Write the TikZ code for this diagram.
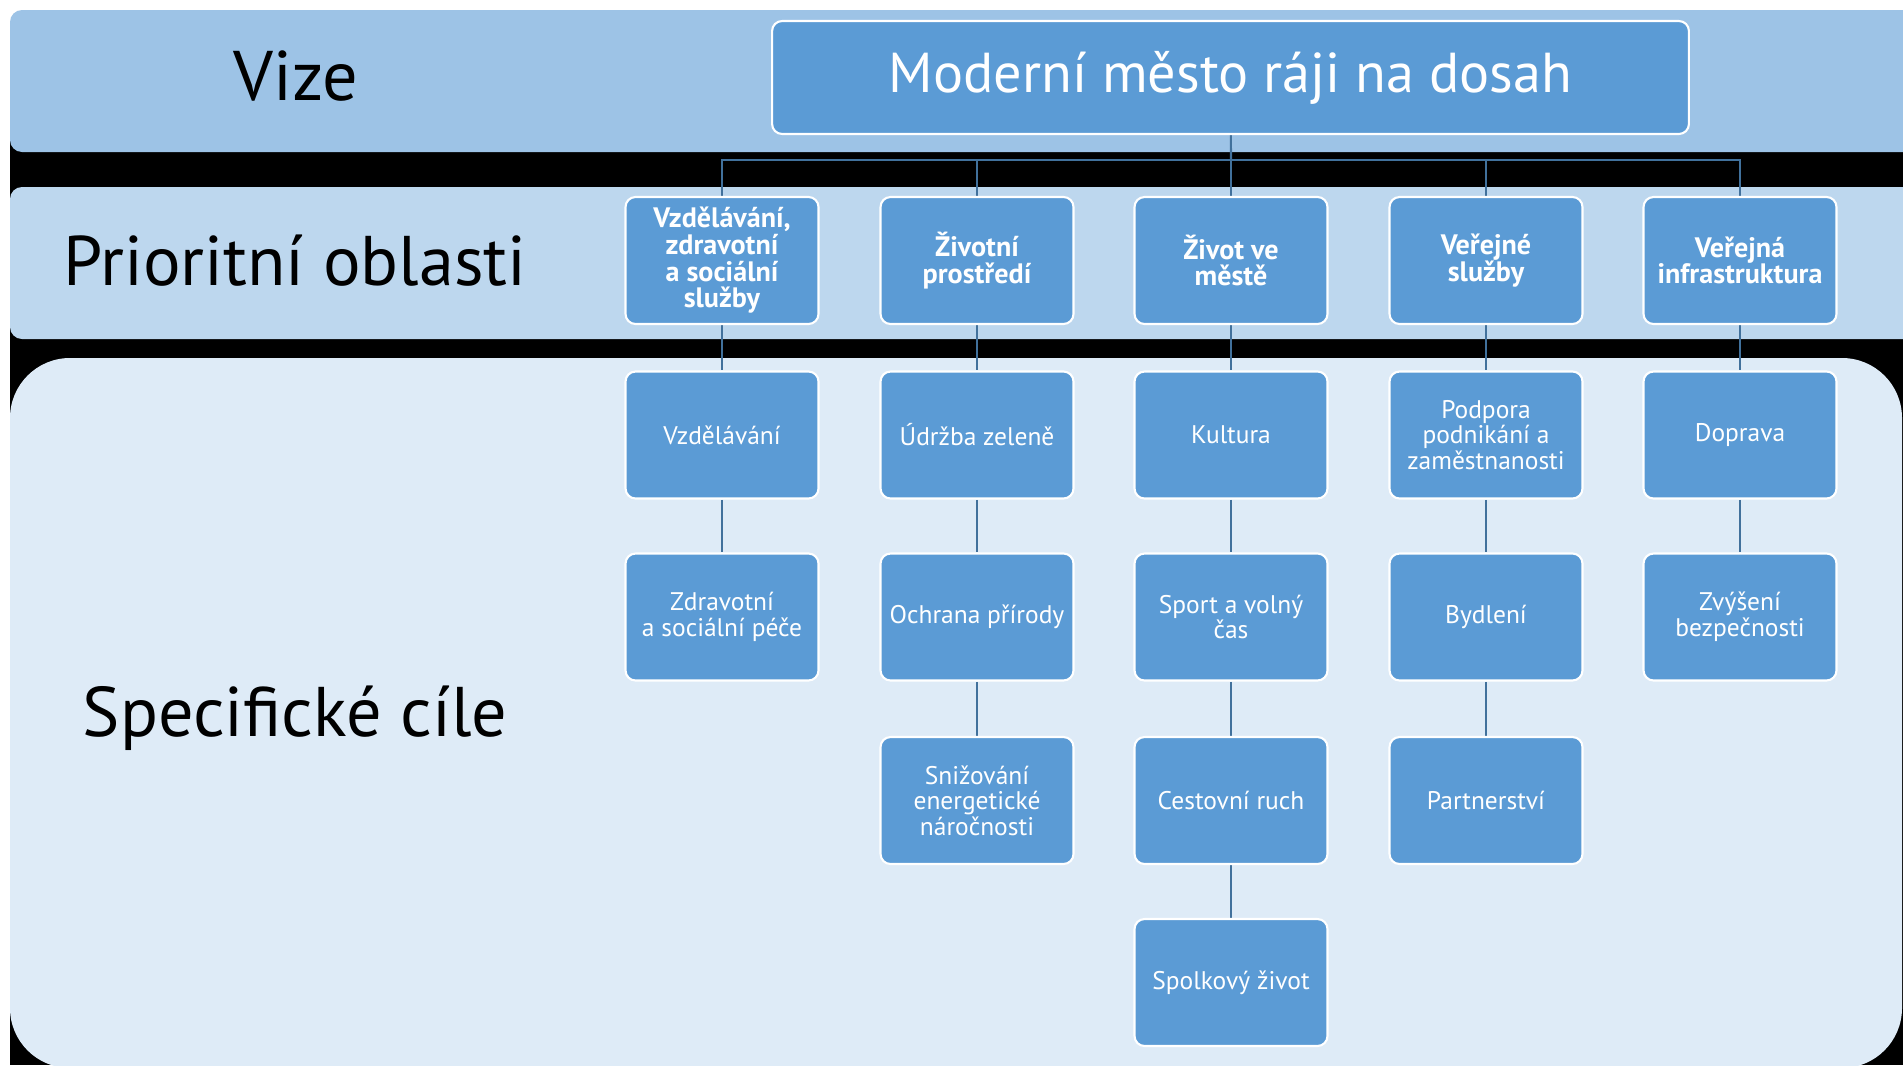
\documentclass[tikz,border=0pt]{standalone}
\usepackage{fontspec}
\setmainfont{PT Sans}
\usetikzlibrary{positioning}
\pgfdeclarelayer{backdrop}
\pgfdeclarelayer{background}
\pgfsetlayers{backdrop,background,main}
\definecolor{bandA}{HTML}{9DC3E6}
\definecolor{bandB}{HTML}{BDD7EE}
\definecolor{bandC}{HTML}{DEEBF7}
\definecolor{boxfill}{HTML}{5B9BD5}
\definecolor{linkblue}{HTML}{41719C}

\begin{document}
\begin{tikzpicture}[x=0.02cm,y=-0.02cm,
					goalbox/.style={rectangle, rounded corners=0.2cm, draw=white, line width=1.2pt, fill=boxfill, text=white, minimum width=3.86cm, minimum height=2.54cm, align=center, inner sep=2pt},
					areabox/.style={goalbox, font=\bfseries\fontsize{16}{15.2}\selectfont},
					aimbox/.style={goalbox, font=\fontsize{14.5}{14.6}\selectfont},
					rowlabel/.style={text=black, font=\fontsize{40}{42}\selectfont},
					link/.style={draw=linkblue, line width=1.2pt},
					]
					\useasboundingbox (0,0) rectangle (1903,1065);
					
					\begin{pgfonlayer}{backdrop}
					%Bands
					\fill[black] (10,100) rectangle (1903,1065);
					\fill[bandA, rounded corners=0.24cm] (10,10) rectangle (1940,152);
					\fill[bandB, rounded corners=0.24cm] (10,187) rectangle (1940,339);
					\fill[bandC, rounded corners=1.2cm] (10,358) rectangle (1902,1068);
					\end{pgfonlayer}
					
					%Labels
					\node[rowlabel]      (vizelbl)   at (296,76)      {Vize};
					\node[rowlabel]      (prilbl)    at (295,261)     {Prioritní oblasti};
					\node[rowlabel]      (spclbl)    at (295,718)     {Specifické cíle};
					
					%Vision
					\node[goalbox, minimum width=18.34cm, minimum height=2.26cm, font=\fontsize{32}{34}\selectfont] (vision) at (1230.5,77.5) {Moderní město ráji na dosah};
					\coordinate (hub) at (1231,160);
					
					%Priority areas
					\node[areabox]      (pa1)      at (722,260.5)      {Vzdělávání,\\zdravotní\\a sociální\\služby};
					\node[areabox]      (pa2)      at (977,260.5)      {Životní\\prostředí};
					\node[areabox]      (pa3)      at (1231,260.5)     {Život ve\\městě};
					\node[areabox]      (pa4)      at (1486,260.5)     {Veřejné\\služby};
					\node[areabox]      (pa5)      at (1740,260.5)     {Veřejná\\infrastruktura};
					
					%Specific aims
					\node[aimbox]      (a11)      at (722,435)      {Vzdělávání};
					\node[aimbox]      (a12)      at (722,617)      {Zdravotní\\a sociální péče};
					\node[aimbox]      (a21)      at (977,435)      {Údržba zeleně};
					\node[aimbox]      (a22)      at (977,617)      {Ochrana přírody};
					\node[aimbox]      (a23)      at (977,800.5)    {Snižování\\energetické\\náročnosti};
					\node[aimbox]      (a31)      at (1231,435)     {Kultura};
					\node[aimbox]      (a32)      at (1231,617)     {Sport a volný\\čas};
					\node[aimbox]      (a33)      at (1231,800.5)   {Cestovní ruch};
					\node[aimbox]      (a34)      at (1231,982.5)   {Spolkový život};
					\node[aimbox]      (a41)      at (1486,435)     {Podpora\\podnikání a\\zaměstnanosti};
					\node[aimbox]      (a42)      at (1486,617)     {Bydlení};
					\node[aimbox]      (a43)      at (1486,800.5)   {Partnerství};
					\node[aimbox]      (a51)      at (1740,435)     {Doprava};
					\node[aimbox]      (a52)      at (1740,617)     {Zvýšení\\bezpečnosti};
					
					\begin{pgfonlayer}{background}
					%Lines
					\draw[link] (vision) -- (hub);
					\foreach \n in {pa1,pa2,pa3,pa4,pa5}
						\draw[link] (hub) -| (\n);
					\draw[link] (pa1) -- (a11);
					\draw[link] (a11) -- (a12);
					\draw[link] (pa2) -- (a21);
					\draw[link] (a21) -- (a22);
					\draw[link] (a22) -- (a23);
					\draw[link] (pa3) -- (a31);
					\draw[link] (a31) -- (a32);
					\draw[link] (a32) -- (a33);
					\draw[link] (a33) -- (a34);
					\draw[link] (pa4) -- (a41);
					\draw[link] (a41) -- (a42);
					\draw[link] (a42) -- (a43);
					\draw[link] (pa5) -- (a51);
					\draw[link] (a51) -- (a52);
					\end{pgfonlayer}
				\end{tikzpicture}
\end{document}
